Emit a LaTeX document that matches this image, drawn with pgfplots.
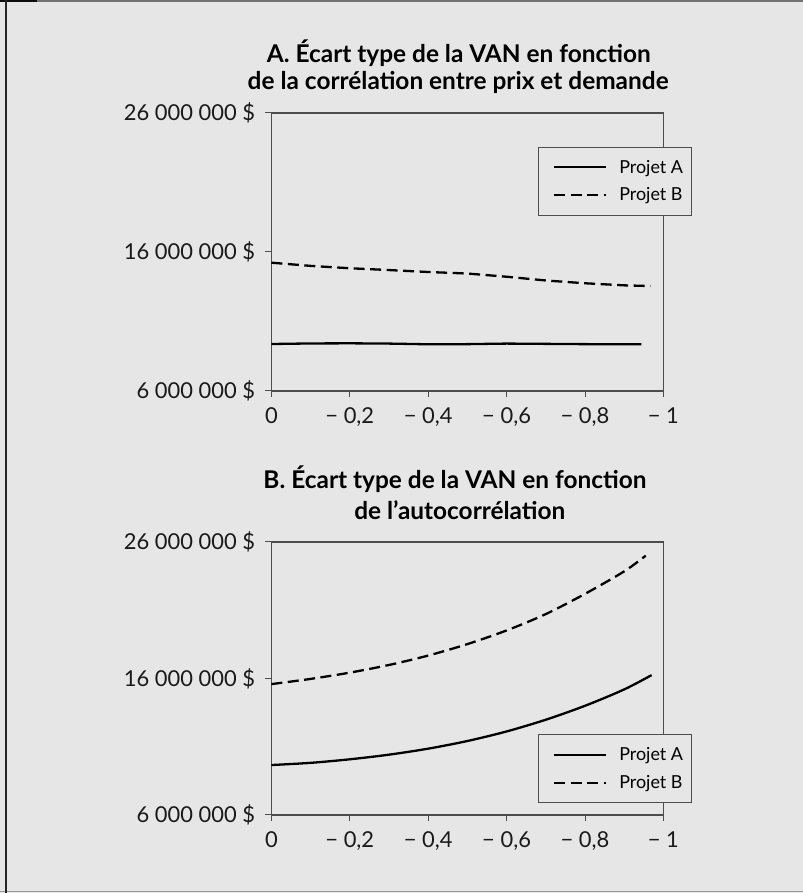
\documentclass[border=0pt]{standalone}
\usepackage{fontspec}
\setmainfont{Lato}
\usepackage{pgfplots}
\pgfplotsset{compat=1.18}
\definecolor{bg}{HTML}{E6E6E6}
\definecolor{axc}{HTML}{4D4D4D}
\pgfplotsset{
  vanstyle/.style={
    scale only axis, width=392bp,
    xmin=-1, xmax=0, x dir=reverse,
    ymin=6, ymax=26,
    axis line style={axc, line width=1.1bp},
    tick style={axc, line width=1bp},
    tick align=outside, major tick length=6bp,
    xtick pos=bottom, ytick pos=left,
    xtick={0,-0.2,-0.4,-0.6,-0.8,-1},
    xticklabels={{0},{− 0,2},{− 0,4},{− 0,6},{− 0,8},{− 1}},
    ytick={6,16,26},
    yticklabels={{6 000 000 \$},{16 000 000 \$},{26 000 000 \$}},
    ticklabel style={font=\fontsize{22}{26}\selectfont, text=black!90},
    yticklabel style={inner sep=0pt, anchor=east, xshift=-10bp},
    xticklabel style={inner sep=0pt, anchor=base, yshift=-27bp},
    legend cell align=left,
    legend style={anchor=north west, draw=axc, line width=0.9bp, fill=bg,
      inner xsep=8bp, inner ysep=13bp, row sep=13bp, column sep=12bp,
      font=\fontsize{18}{20}\selectfont,
      nodes={inner sep=0pt}},
    legend image code/.code={\path (0bp,0bp); \draw[##1, line width=2.2bp] (7bp,0bp) -- (59bp,0bp);},
    clip=false,
  },
  pa/.style={black, line width=2.3bp},
  pb/.style={black, line width=2.3bp, dash pattern=on 11bp off 5.5bp},
}
\begin{document}
\begin{tikzpicture}[x=1bp,y=1bp]
\useasboundingbox (0,0) rectangle (803,893);
\fill[bg] (0,0) rectangle (803,893);
\draw[line width=2bp, black!55] (0,892) -- (803,892);
\draw[line width=2bp, black!95] (0,892) -- (37,892);
\draw[line width=1bp, black!40] (0,1.5) -- (803,1.5);
\draw[line width=2.5bp, black!85] (6,0) -- (6,893);

\node[anchor=base, inner sep=0pt, font=\bfseries\fontsize{24.5}{28}\selectfont] at (458.8,830.3) {A. Écart type de la VAN en fonction};
\node[anchor=base, inner sep=0pt, font=\bfseries\fontsize{24.5}{28}\selectfont] at (458.2,803) {de la corrélation entre prix et demande};
\node[anchor=base, inner sep=0pt, font=\bfseries\fontsize{24.5}{28}\selectfont] at (455,404.7) {B. Écart type de la VAN en fonction};
\node[anchor=base, inner sep=0pt, font=\bfseries\fontsize{24.5}{28}\selectfont] at (459.8,373) {de l’autocorrélation};

\begin{axis}[vanstyle, at={(271.4bp,502bp)}, anchor=south west, height=278bp,
  legend style={at={(0.679,0.879)}}]
\addplot[pa] coordinates {(0,9.38) (-0.1,9.42) (-0.2,9.43) (-0.3,9.41) (-0.4,9.36) (-0.5,9.37) (-0.6,9.41) (-0.7,9.39) (-0.8,9.37) (-0.944,9.36)};
\addlegendentry{Projet A}
\addplot[pb] coordinates {(0,15.23) (-0.1,15.0) (-0.2,14.83) (-0.3,14.7) (-0.4,14.56) (-0.5,14.45) (-0.6,14.22) (-0.7,13.95) (-0.8,13.75) (-0.9,13.6) (-0.967,13.55)};
\addlegendentry{Projet B}
\end{axis}

\begin{axis}[vanstyle, at={(271.4bp,78bp)}, anchor=south west, height=273bp,
  legend style={at={(0.679,0.2956)}}]
\addplot[pa, smooth] coordinates {(0,9.66) (-0.1,9.82) (-0.2,10.08) (-0.3,10.42) (-0.4,10.86) (-0.5,11.42) (-0.6,12.12) (-0.7,12.98) (-0.8,14.0) (-0.9,15.2) (-0.97,16.25)};
\addlegendentry{Projet A}
\addplot[pb, smooth] coordinates {(0,15.59) (-0.1,15.97) (-0.2,16.43) (-0.3,16.99) (-0.4,17.68) (-0.5,18.52) (-0.6,19.52) (-0.7,20.72) (-0.8,22.2) (-0.9,23.85) (-0.955,25.0)};
\addlegendentry{Projet B}
\end{axis}
\end{tikzpicture}
\end{document}
